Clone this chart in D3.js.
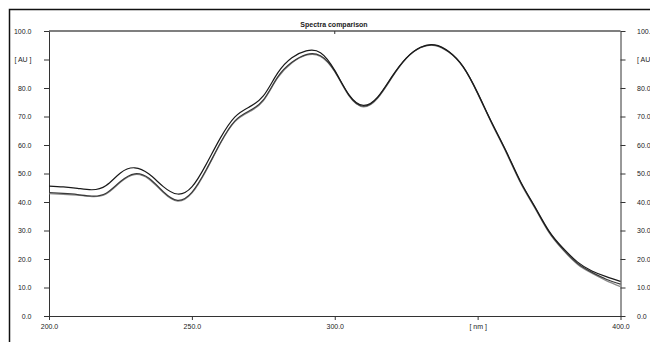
<!DOCTYPE html>
<html>
<head>
<meta charset="utf-8">
<script src="https://cdn.jsdelivr.net/npm/d3@7"></script>
<style>
  body { margin: 0; background: #fff; }
  svg { display: block; font-family: "Liberation Sans", Arial, sans-serif; }
  .axis text { font-size: 7px; fill: #222; }
  .axis path, .axis line { stroke: #333; }
</style>
</head>
<body>
<div id="chart"></div>
<script>
'use strict';

// wavelengths (nm)
var wavelengths = [200, 205, 210, 215, 220, 225, 230, 235, 240, 245,
                   250, 255, 260, 265, 270, 275, 280, 285, 290, 295,
                   300, 305, 310, 315, 320, 325, 330, 335, 340, 345,
                   350, 355, 360, 365, 370, 375, 380, 385, 390, 395, 400];

// absorbance of each spectrum (AU)
var spectrumA = [45.6, 45.3, 44.8, 44.3, 45.8, 50.2, 52.0, 49.8, 45.4, 42.8,
                 45.3, 53.2, 62.5, 69.8, 73.3, 77.2, 85.2, 90.6, 93.0, 92.4,
                 86.2, 77.6, 73.9, 76.8, 84.0, 90.5, 94.3, 95.1, 92.7, 87.4,
                 78.3, 67.8, 57.8, 47.2, 38.4, 29.8, 23.7, 18.9, 15.8, 13.8, 12.1];
var spectrumB = [43.3, 43.0, 42.6, 42.1, 43.1, 47.2, 49.9, 48.3, 43.6, 40.6,
                 43.4, 51.3, 60.8, 68.4, 71.9, 75.8, 83.8, 89.0, 91.7, 91.3,
                 85.9, 77.4, 73.6, 76.6, 83.8, 90.4, 94.2, 95.0, 92.6, 87.3,
                 78.2, 67.6, 57.6, 47.0, 38.2, 29.5, 23.3, 18.4, 15.3, 12.9, 11.2];
var spectrumC = [42.9, 42.7, 42.4, 41.9, 42.8, 46.9, 49.6, 48.0, 43.3, 40.3,
                 43.1, 51.0, 60.5, 68.1, 71.6, 75.5, 83.5, 88.8, 91.5, 91.1,
                 85.7, 77.2, 73.4, 76.4, 83.6, 90.3, 94.1, 94.9, 92.5, 87.2,
                 78.0, 67.4, 57.3, 46.7, 37.9, 29.2, 23.0, 18.1, 15.0, 12.4, 10.3];

var spectra = [spectrumA, spectrumB, spectrumC];
var spectrumColors = ['#1a1a1a', '#3a3a3a', '#8a8a8a'];

var yTicks = [0, 10, 20, 30, 40, 50, 60, 70, 80, 90, 100];
var yTickLabels = ['0.0', '10.0', '20.0', '30.0', '40.0', '50.0', '60.0', '70.0', '80.0', '[ AU ]', '100.0'];
var xTicks = [200, 250, 300, 350, 400];
var xTickLabels = ['200.0', '250.0', '300.0', '[ nm ]', '400.0'];

var width = 650,
    height = 342;

var svg = d3.select('#chart').append('svg')
    .attr('width', width)
    .attr('height', height);

// outer frame (runs off the right and bottom edges)
svg.append('rect')
    .attr('x', 9.5).attr('y', 9.5)
    .attr('width', 700).attr('height', 400)
    .attr('fill', 'none')
    .attr('stroke', '#111')
    .attr('stroke-width', 1.5);

var x = d3.scaleLinear().domain([200, 400]).range([49, 620.5]);
var y = d3.scaleLinear().domain([0, 100]).range([316, 31]);

// title
svg.append('text')
    .attr('x', 334).attr('y', 26.5)
    .attr('text-anchor', 'middle')
    .style('font-size', '7px')
    .style('font-weight', 'bold')
    .attr('fill', '#222')
    .text('Spectra comparison');

// top border of the plot
svg.append('line')
    .attr('x1', x(200)).attr('x2', x(400))
    .attr('y1', y(100)).attr('y2', y(100))
    .attr('stroke', '#555')
    .attr('stroke-width', 1.3);
svg.append('line')
    .attr('x1', x(300)).attr('x2', x(300))
    .attr('y1', y(100)).attr('y2', y(100) + 3)
    .attr('stroke', '#333');

function yLabel(d) { return yTickLabels[yTicks.indexOf(d)]; }
function xLabel(d) { return xTickLabels[xTicks.indexOf(d)]; }

svg.append('g')
    .attr('class', 'axis')
    .attr('transform', 'translate(' + x(200) + ',0)')
    .call(d3.axisLeft(y).tickValues(yTicks).tickFormat(yLabel)
      .tickSize(5).tickSizeOuter(0).tickPadding(12.5));

svg.append('g')
    .attr('class', 'axis')
    .attr('transform', 'translate(' + x(400) + ',0)')
    .call(d3.axisRight(y).tickValues(yTicks).tickFormat(yLabel)
      .tickSize(5).tickSizeOuter(0).tickPadding(11.5));

svg.append('g')
    .attr('class', 'axis')
    .attr('transform', 'translate(0,' + y(0) + ')')
    .call(d3.axisBottom(x).tickValues(xTicks).tickFormat(xLabel)
      .tickSize(4).tickSizeOuter(0).tickPadding(4.5));

// spectra
var line = d3.line()
    .x(function(d, i) { return x(wavelengths[i]); })
    .y(function(d) { return y(d); })
    .curve(d3.curveNatural);

svg.append('g')
  .selectAll('path')
  .data(spectra.slice().reverse())
  .enter()
  .append('path')
    .attr('d', line)
    .attr('fill', 'none')
    .attr('stroke', function(d, i) { return spectrumColors[spectra.length - 1 - i]; })
    .attr('stroke-width', 1.2);
</script>
</body>
</html>
